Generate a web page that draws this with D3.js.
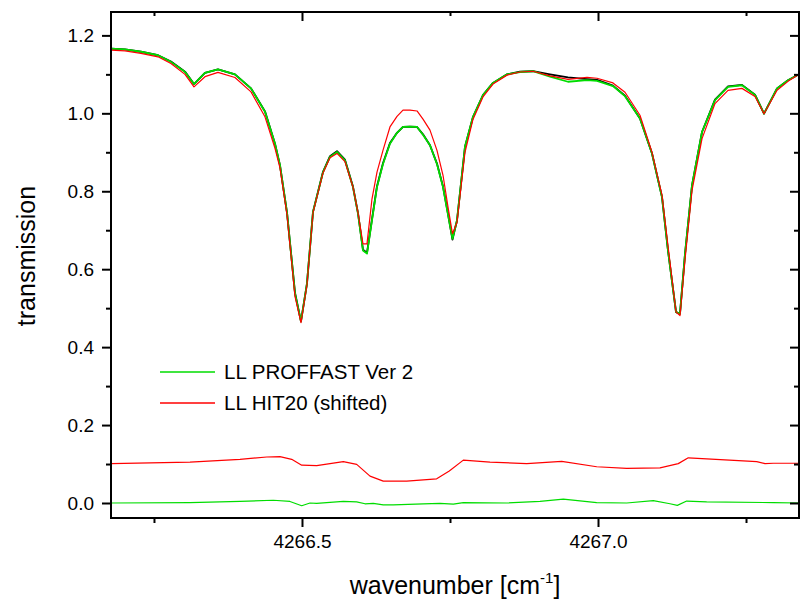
<!DOCTYPE html>
<html>
<head>
<meta charset="utf-8">
<script src="https://cdn.jsdelivr.net/npm/d3@7/dist/d3.min.js"></script>
<style>
  html, body { margin: 0; padding: 0; background: #fff; }
  svg { display: block; font-family: "Liberation Sans", Arial, sans-serif; }
</style>
</head>
<body>
<svg id="chart" width="800" height="601"></svg>
<script>
// Spectral grid (wavenumber, cm^-1) shared by the three transmission spectra
const wn = [4266.1774, 4266.2010, 4266.2280, 4266.2568, 4266.2787, 4266.3024, 4266.3176, 4266.3361,
  4266.3581, 4266.3868, 4266.4139, 4266.4375, 4266.4544, 4266.4628, 4266.4747, 4266.4882, 4266.4983,
  4266.5084, 4266.5186, 4266.5355, 4266.5473, 4266.5591, 4266.5726, 4266.5861, 4266.5946, 4266.6030,
  4266.6098, 4266.6182, 4266.6267, 4266.6368, 4266.6486, 4266.6605, 4266.6706, 4266.6824, 4266.6943,
  4266.7044, 4266.7162, 4266.7280, 4266.7382, 4266.7466, 4266.7542, 4266.7618, 4266.7753, 4266.7889,
  4266.8057, 4266.8226, 4266.8463, 4266.8682, 4266.8902, 4266.9189, 4266.9493, 4266.9814, 4266.9983,
  4267.0253, 4267.0456, 4267.0709, 4267.0912, 4267.1081, 4267.1182, 4267.1318, 4267.1385, 4267.1470,
  4267.1588, 4267.1757, 4267.1976, 4267.2196, 4267.2432, 4267.2652, 4267.2804, 4267.3024, 4267.3209,
  4267.3395];

// Measured spectrum
const measured = [1.166, 1.164, 1.158, 1.149, 1.133, 1.107, 1.075, 1.104, 1.113, 1.100, 1.064, 1.005,
  0.922, 0.867, 0.745, 0.540, 0.466, 0.563, 0.747, 0.850, 0.890, 0.903, 0.881, 0.812, 0.744, 0.650,
  0.642, 0.728, 0.813, 0.872, 0.924, 0.950, 0.965, 0.966, 0.965, 0.946, 0.918, 0.871, 0.812, 0.742,
  0.676, 0.725, 0.914, 0.991, 1.047, 1.078, 1.100, 1.107, 1.108, 1.100, 1.092, 1.088, 1.086, 1.071,
  1.045, 0.987, 0.897, 0.785, 0.648, 0.490, 0.486, 0.640, 0.815, 0.952, 1.035, 1.069, 1.073, 1.048,
  0.999, 1.064, 1.085, 1.100];

// LL PROFFAST Ver 2
const proffast = [1.166, 1.164, 1.158, 1.149, 1.132, 1.106, 1.075, 1.104, 1.113, 1.100, 1.064, 1.004,
  0.922, 0.867, 0.745, 0.537, 0.466, 0.563, 0.747, 0.849, 0.888, 0.901, 0.879, 0.811, 0.743, 0.648,
  0.640, 0.725, 0.811, 0.870, 0.922, 0.950, 0.965, 0.966, 0.965, 0.945, 0.918, 0.870, 0.811, 0.740,
  0.678, 0.725, 0.914, 0.991, 1.047, 1.078, 1.100, 1.106, 1.108, 1.094, 1.081, 1.085, 1.083, 1.070,
  1.044, 0.987, 0.897, 0.785, 0.648, 0.490, 0.486, 0.640, 0.815, 0.952, 1.034, 1.068, 1.072, 1.047,
  0.999, 1.064, 1.085, 1.100];

// LL HIT20 (shifted)
const hit20 = [1.162, 1.160, 1.154, 1.145, 1.128, 1.100, 1.068, 1.094, 1.105, 1.092, 1.055, 0.991,
  0.910, 0.860, 0.740, 0.530, 0.463, 0.560, 0.745, 0.847, 0.886, 0.897, 0.876, 0.811, 0.745, 0.665,
  0.665, 0.780, 0.849, 0.905, 0.965, 0.992, 1.008, 1.008, 1.006, 0.985, 0.957, 0.905, 0.841, 0.760,
  0.691, 0.720, 0.900, 0.985, 1.042, 1.075, 1.098, 1.106, 1.108, 1.096, 1.087, 1.092, 1.090, 1.078,
  1.054, 0.995, 0.900, 0.790, 0.660, 0.490, 0.481, 0.625, 0.802, 0.935, 1.025, 1.059, 1.064, 1.043,
  0.999, 1.059, 1.082, 1.100];

// Residual of HIT20 fit, plotted with +0.1 offset
const resHitWn = [4266.1774, 4266.3108, 4266.3953, 4266.4404, 4266.4628, 4266.4826, 4266.4995, 4266.5248,
  4266.5698, 4266.5924, 4266.6149, 4266.6373, 4266.6769, 4266.7275, 4266.7488, 4266.7725, 4266.8176,
  4266.8796, 4266.9387, 4266.9978, 4267.0485, 4267.1047, 4267.1356, 4267.1525, 4267.1836, 4267.2681,
  4267.2821, 4267.2961, 4267.3395];
const resHit = [0.101, 0.105, 0.112, 0.118, 0.119, 0.112, 0.097, 0.096, 0.106, 0.099, 0.069, 0.056,
  0.056, 0.062, 0.082, 0.110, 0.105, 0.101, 0.107, 0.093, 0.089, 0.090, 0.101, 0.116, 0.113, 0.106,
  0.101, 0.102, 0.102];

// Residual of PROFFAST fit
const resProfWn = [4266.1774, 4266.3108, 4266.3953, 4266.4515, 4266.4797, 4266.4995, 4266.5135, 4266.5248,
  4266.5698, 4266.5924, 4266.6064, 4266.6204, 4266.6373, 4266.6542, 4266.7049, 4266.7331, 4266.7556,
  4266.7725, 4266.8458, 4266.9020, 4266.9414, 4266.9978, 4267.0485, 4267.0934, 4267.1216, 4267.1340,
  4267.1498, 4267.1836, 4267.2961, 4267.3395];
const resProf = [0.000, 0.001, 0.004, 0.007, 0.004, -0.007, 0.000, -0.001, 0.004, 0.003, -0.002, -0.001,
  -0.005, -0.005, -0.002, -0.001, -0.003, 0.001, 0.000, 0.004, 0.010, 0.001, 0.000, 0.006, -0.002,
  -0.006, 0.005, 0.003, 0.001, 0.000];

// Axis ticks
const xMajor = [4266.5, 4267.0];
const xMajorLabels = ["4266.5", "4267.0"];
const xMinor = [4266.25, 4266.75, 4267.25];
const yMajor = [0.0, 0.2, 0.4, 0.6, 0.8, 1.0, 1.2];
const yMajorLabels = ["0.0", "0.2", "0.4", "0.6", "0.8", "1.0", "1.2"];
const yMinor = [0.1, 0.3, 0.5, 0.7, 0.9, 1.1];

const legendNames = ["LL PROFFAST Ver 2", "LL HIT20 (shifted)"];
const GREEN = "#00dd00", RED = "#ff0000";

const svg = d3.select("#chart");
const L = 111, R = 799, T = 12, B = 518;

const x = d3.scaleLinear().domain([4266.1774, 4267.3395]).range([L, R]);
const y = d3.scaleLinear().domain([-0.0385, 1.26]).range([B, T]);

svg.append("defs").append("clipPath").attr("id", "plotclip")
  .append("rect").attr("x", L).attr("y", T).attr("width", R - L).attr("height", B - T);

const plot = svg.append("g").attr("clip-path", "url(#plotclip)");

function draw(xs, ys, color, width) {
  const pts = xs.map((d, i) => [d, ys[i]]);
  plot.append("path")
    .datum(pts)
    .attr("fill", "none")
    .attr("stroke", color)
    .attr("stroke-width", width)
    .attr("stroke-linejoin", "round")
    .attr("d", d3.line().x(d => x(d[0])).y(d => y(d[1])));
}

draw(resHitWn, resHit, RED, 1.2);
draw(resProfWn, resProf, GREEN, 1.2);
draw(wn, measured, "#000", 1.8);
draw(wn, proffast, GREEN, 1.8);
draw(wn, hit20, RED, 1.2);

// Axes: outward ticks on bottom/left, inward ticks on top/right
const tickFont = "19px";
const axBottom = d3.axisBottom(x).tickValues(xMajor).tickSize(9).tickPadding(8)
  .tickFormat((d, i) => xMajorLabels[i]);
const axBottomMinor = d3.axisBottom(x).tickValues(xMinor).tickSize(5).tickFormat("");
const axTop = d3.axisBottom(x).tickValues(xMajor).tickSize(9).tickFormat("");
const axTopMinor = d3.axisBottom(x).tickValues(xMinor).tickSize(4).tickFormat("");
const axLeft = d3.axisLeft(y).tickValues(yMajor).tickSize(9).tickPadding(8)
  .tickFormat((d, i) => yMajorLabels[i]);
const axLeftMinor = d3.axisLeft(y).tickValues(yMinor).tickSize(5).tickFormat("");
const axRight = d3.axisLeft(y).tickValues(yMajor).tickSize(9).tickFormat("");
const axRightMinor = d3.axisLeft(y).tickValues(yMinor).tickSize(5).tickFormat("");

function place(axis, tx, ty) {
  const g = svg.append("g").attr("transform", `translate(${tx},${ty})`).call(axis);
  g.select(".domain").remove();
  g.selectAll("line").attr("stroke", "#000").attr("stroke-width", 2);
  g.selectAll("text").attr("font-size", tickFont).attr("fill", "#000")
    .attr("font-family", "'Liberation Sans', Arial, sans-serif");
  return g;
}
place(axBottom, 0, B);
place(axBottomMinor, 0, B);
place(axTop, 0, T);
place(axTopMinor, 0, T);
place(axLeft, L, 0);
place(axLeftMinor, L, 0);
place(axRight, R, 0);
place(axRightMinor, R, 0);

// Frame
svg.append("rect").attr("x", L).attr("y", T).attr("width", R - L).attr("height", B - T)
  .attr("fill", "none").attr("stroke", "#000").attr("stroke-width", 2);

// Axis titles
const xt = svg.append("text").attr("x", (L + R) / 2).attr("y", 594)
  .attr("text-anchor", "middle").attr("font-size", "25px").attr("fill", "#000");
xt.append("tspan").text("wavenumber [cm");
xt.append("tspan").attr("font-size", "15px").attr("dy", -11).text("-1");
xt.append("tspan").attr("dy", 11).text("]");

svg.append("text")
  .attr("transform", `translate(35,${(T + B) / 2 - 9}) rotate(-90)`)
  .attr("text-anchor", "middle").attr("font-size", "25px").attr("fill", "#000")
  .text("transmission");

// Legend
const legend = svg.append("g");
[GREEN, RED].forEach((c, i) => {
  const ly = 372 + i * 31;
  legend.append("line").attr("x1", 160).attr("x2", 215).attr("y1", ly).attr("y2", ly)
    .attr("stroke", c).attr("stroke-width", 1.3);
  legend.append("text").attr("x", 224).attr("y", ly).attr("dy", "0.35em")
    .attr("font-size", "20.5px").attr("fill", "#000").text(legendNames[i]);
});
</script>
</body>
</html>
